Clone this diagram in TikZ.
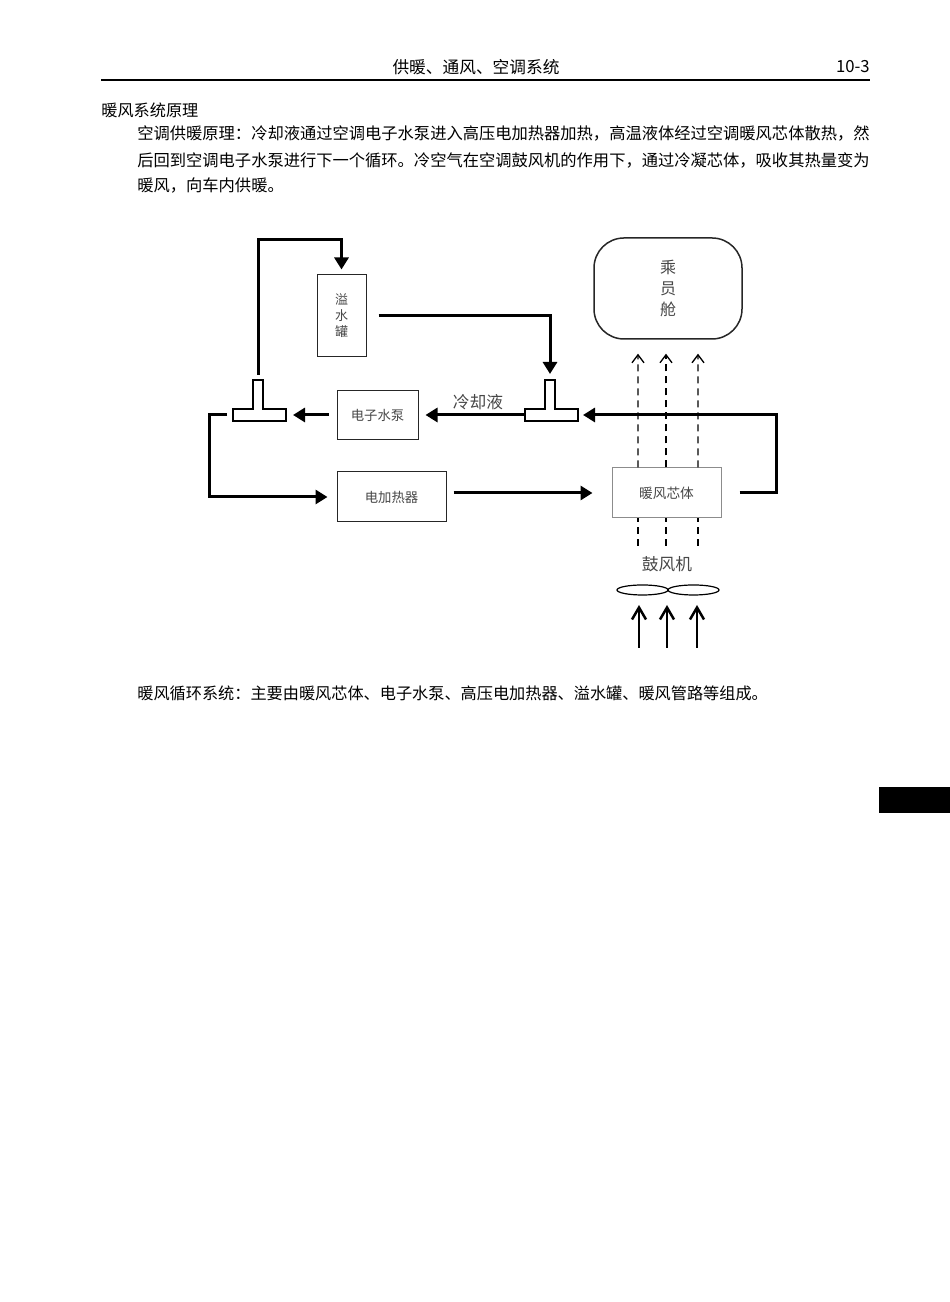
\documentclass[tikz,border=0pt]{standalone}
\usepackage{fontspec}
\setmainfont{Noto Sans CJK SC}
\usetikzlibrary{arrows.meta,calc}
\tikzset{
  pipe/.style={line width=0.060000cm, -{Triangle[length=0.240000cm,width=0.280000cm]}},
  unit/.style={draw=black!85, line width=0.020000cm, inner sep=0pt, text=black!72, font=\fontsize{7.6pt}{9pt}\selectfont},
  tee/.style={draw, line width=0.026000cm, fill=white},
  airdash/.style={line width=0.026000cm, dash pattern=on 0.140000cm off 0.100000cm},
  airtip/.style={-{Straight Barb[length=0.160000cm,width=0.240000cm]}},
  blow/.style={line width=0.050000cm, -{Straight Barb[length=0.240000cm,width=0.280000cm]}},
  para/.style={anchor=west, inner sep=0pt, font=\fontsize{9.26pt}{11pt}\selectfont},
}
\begin{document}
\begin{tikzpicture}
            \useasboundingbox (0,0) rectangle (19.000000,26.040000);
            
            % Marking page header
            \node [inner sep=0pt, font=\fontsize{9.5pt}{11pt}\selectfont] (title) at (9.520000,24.700000) {供暖、通风、空调系统};%
            \node [anchor=east, inner sep=0pt, font=\fontsize{9.5pt}{11pt}\selectfont] (page) at (17.400000,24.700000) {10-3};%
            \draw [line width=0.030000cm] (2.020000,24.440000) -- (17.400000,24.440000);%
            
            % Marking heading and paragraph
            \node [para, font=\fontsize{9.2pt}{11pt}\selectfont] (heading) at (2.020000,23.840000) {暖风系统原理};%
            \node [para] (lineA) at (2.740000,23.380000) {空调供暖原理：冷却液通过空调电子水泵进入高压电加热器加热，高温液体经过空调暖风芯体散热，然};%
            \node [para] (lineB) at (2.740000,22.840000) {后回到空调电子水泵进行下一个循环。冷空气在空调鼓风机的作用下，通过冷凝芯体，吸收其热量变为};%
            \node [para] (lineC) at (2.740000,22.320000) {暖风，向车内供暖。};%
            
            % Marking overflow tank
            \node [unit, minimum width=0.980000cm, minimum height=1.640000cm, align=center, font=\fontsize{7.4pt}{9.1pt}\selectfont] (tank) at (6.830000,19.720000) {溢\\水\\罐};%
            
            % Marking pump, heater and core
            \node [unit, minimum width=1.620000cm, minimum height=0.980000cm] (pump) at (7.550000,17.740000) {电子水泵};%
            \node [unit, minimum width=2.180000cm, minimum height=1.000000cm] (heater) at (7.830000,16.100000) {电加热器};%
            \node [unit, draw=black!45, minimum width=2.180000cm, minimum height=1.000000cm, font=\fontsize{7.8pt}{9pt}\selectfont] (core) at (13.330000,16.180000) {暖风芯体};%
            
            % Marking cabin
            \node [unit, rounded corners=0.600000cm, line width=0.030000cm, minimum width=2.960000cm, minimum height=2.020000cm, align=center, font=\fontsize{9.1pt}{12.2pt}\selectfont] (cabin) at (13.360000,20.270000) {乘\\员\\舱};%
            
            % Marking coolant and blower
            \node [text=black!72, font=\fontsize{9.5pt}{11pt}\selectfont] (coolant) at (9.560000,18.000000) {冷却液};%
            \node [text=black!72, font=\fontsize{9.5pt}{11pt}\selectfont] (blower) at (13.340000,14.760000) {鼓风机};%
            
            % Drawing tee pieces
            \draw [tee] (4.660000,17.860000) -- (5.060000,17.860000) -- (5.060000,18.440000) -- (5.260000,18.440000) -- (5.260000,17.860000) -- (5.720000,17.860000) -- (5.720000,17.620000) -- (4.660000,17.620000) -- cycle;%
            \draw [tee] (10.500000,17.860000) -- (10.900000,17.860000) -- (10.900000,18.440000) -- (11.100000,18.440000) -- (11.100000,17.860000) -- (11.560000,17.860000) -- (11.560000,17.620000) -- (10.500000,17.620000) -- cycle;%
            \coordinate (teeLtop) at (5.160000,18.540000);
            \coordinate (teeLleft) at (4.660000,17.740000);
            \coordinate (teeLright) at (5.720000,17.740000);
            \coordinate (teeRtop) at (11.000000,18.440000);
            \coordinate (teeRleft) at (10.500000,17.740000);
            \coordinate (teeRright) at (11.560000,17.740000);
            \coordinate (loopTop) at (5.160000,21.240000);
            \coordinate (loopLeft) at (4.180000,17.740000);
            \coordinate (loopRight) at (15.520000,17.740000);
            
            % Drawing coolant loop
            \draw [pipe] (teeLtop) -- (loopTop) -| ([yshift=0.100000cm]tank.north);%
            \draw [pipe] ([xshift=0.240000cm]tank.east) -| ([yshift=0.120000cm]teeRtop);%
            \draw [pipe] ([xshift=0.360000cm]core.east) -| (loopRight) -- ([xshift=0.100000cm]teeRright);%
            \draw [pipe] (teeRleft) -- ([xshift=0.140000cm]pump.east);%
            \draw [pipe] ([xshift=-0.160000cm]pump.west) -- ([xshift=0.140000cm]teeLright);%
            \draw [pipe] ([xshift=-0.120000cm]teeLleft) -- (loopLeft) |- ([xshift=-0.180000cm]heater.west);%
            \draw [pipe] ($(heater.east |- core.west)+(0.140000,0)$) -- ([xshift=-0.380000cm]core.west);%
            
            % Drawing air through core
            \coordinate (airIn) at (13.330000,15.120000);
            \foreach \dx in {-0.57,-0.01,0.63} {
              \draw [airdash] ([xshift=\dx cm]airIn) -- ([xshift=\dx cm]core.south);%
              \draw [airdash, airtip] ([xshift=\dx cm]core.north) -- ($(core.north |- cabin.south)+(\dx,-0.280000)$);%
            }
            
            % Drawing blower fan
            \draw [line width=0.024000cm] (12.850000,14.240000) ellipse (0.510000 and 0.100000);%
            \draw [line width=0.024000cm] (13.870000,14.240000) ellipse (0.510000 and 0.100000);%
            \foreach \bx in {12.78,13.34,13.94}
              \draw [blow] (\bx,13.080000) -- (\bx,13.940000);%
            
            % Marking closing sentence
            \node [para, font=\fontsize{9.2pt}{11pt}\selectfont] (lineD) at (2.740000,12.180000) {暖风循环系统：主要由暖风芯体、电子水泵、高压电加热器、溢水罐、暖风管路等组成。};%
            
            % Drawing edge tab
            \fill (17.580000,9.780000) rectangle (19.000000,10.300000);%
\end{tikzpicture}
\end{document}
